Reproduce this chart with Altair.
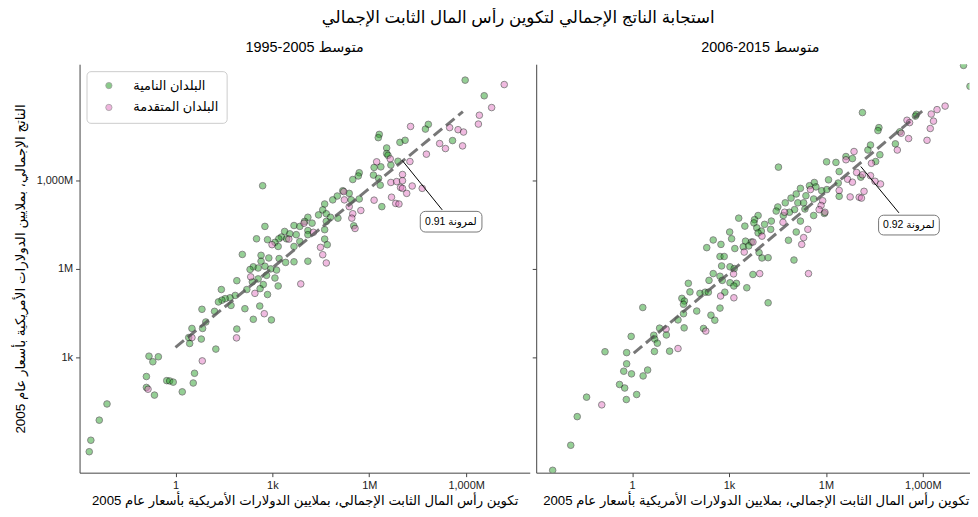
import altair as alt
import pandas as pd

FONT = "Liberation Sans, DejaVu Sans, sans-serif"

TITLE = "استجابة الناتج الإجمالي لتكوين رأس المال الثابت الإجمالي"
SUB_LEFT = "1995-2005 متوسط"
SUB_RIGHT = "2006-2015 متوسط"
X_TITLE = "تكوين رأس المال الثابت الإجمالي، بملايين الدولارات الأمريكية بأسعار عام 2005"
Y_TITLE = "الناتج الإجمالي، بملايين الدولارات الأمريكية بأسعار عام 2005"
GROUPS = ["البلدان النامية", "البلدان المتقدمة"]
COLORS = ["#2ca02c", "#e377c2"]

# values are log10 of (capital formation, output)
left_developing = [
    (8.97, 12.40), (9.56, 11.87), (7.83, 10.90), (7.74, 10.74), (6.31, 10.56), (6.28, 10.45),
    (6.95, 10.29), (7.11, 10.36), (8.58, 10.35), (6.54, 10.10), (6.54, 9.91), (6.58, 9.85),
    (6.89, 9.65), (6.36, 9.46), (6.15, 9.44), (6.67, 9.52), (5.69, 9.26), (5.66, 9.15),
    (5.49, 9.03), (6.13, 9.18), (6.29, 9.07), (6.34, 8.84), (2.70, 8.82), (5.18, 8.65),
    (5.01, 8.47), (5.38, 8.56), (4.87, 8.34), (5.44, 8.34), (5.69, 8.37), (6.39, 8.11),
    (4.62, 8.20), (4.56, 8.00), (4.67, 7.87), (4.43, 7.83), (4.80, 7.75), (5.03, 7.72),
    (5.52, 7.46), (4.67, 7.61), (4.10, 7.75), (4.00, 7.61), (4.23, 7.55), (3.67, 7.47),
    (3.85, 7.44), (4.10, 7.30), (4.62, 7.33), (2.77, 7.44), (3.38, 7.27), (3.54, 7.19),
    (3.74, 7.16), (4.10, 7.16), (3.28, 7.08), (3.20, 7.02), (3.44, 7.02), (2.51, 7.02),
    (2.85, 6.99), (3.08, 6.90), (3.18, 6.76), (3.67, 6.76), (3.85, 6.93), (4.62, 7.01),
    (4.70, 6.82), (2.07, 6.49), (2.65, 6.46), (2.89, 6.37), (3.21, 6.35), (2.65, 6.26),
    (3.41, 6.22), (3.67, 6.24), (4.10, 6.26), (2.41, 6.07), (2.56, 6.03), (2.77, 6.09),
    (2.31, 5.98), (3.13, 5.96), (2.95, 6.00), (2.56, 5.66), (2.82, 5.78), (3.08, 5.69),
    (1.90, 5.60), (2.38, 5.56), (2.72, 5.47), (2.62, 5.33), (3.18, 5.42), (2.21, 5.30),
    (1.42, 5.30), (2.85, 5.13), (1.85, 5.10), (1.69, 5.02), (1.54, 4.99), (1.44, 4.94),
    (1.33, 4.88), (1.72, 4.76), (2.15, 4.65), (2.61, 4.74), (2.41, 4.29), (2.97, 4.27),
    (0.82, 4.63), (1.21, 4.56), (0.94, 4.20), (0.51, 3.98), (0.84, 3.98), (1.90, 3.96),
    (0.41, 3.67), (0.80, 3.62), (0.44, 3.47), (1.25, 3.28), (-0.82, 3.04), (-0.53, 3.02),
    (-0.70, 2.85), (0.59, 2.46), (-0.90, 2.35), (-0.27, 2.21), (-0.18, 2.20), (-0.07, 2.16),
    (0.55, 2.13), (-0.90, 1.98), (0.21, 1.83), (-0.65, 1.72), (-2.12, 1.42), (-2.36, 0.87),
    (-2.62, 0.19), (-2.67, -0.20),
]
left_developed = [
    (10.18, 12.25), (9.79, 11.47), (9.41, 11.21), (9.38, 10.91), (7.28, 10.83), (8.49, 10.79),
    (8.75, 10.72), (8.92, 10.64), (8.18, 10.25), (8.36, 10.08), (8.89, 10.17), (7.77, 9.89),
    (6.65, 9.73), (6.23, 9.63), (7.26, 9.64), (7.03, 9.20), (6.67, 8.93), (6.85, 8.96),
    (7.03, 8.99), (6.97, 8.76), (7.33, 8.81), (7.64, 8.73), (7.03, 8.73), (7.16, 8.56),
    (5.21, 8.62), (5.23, 8.34), (6.15, 8.33), (6.69, 8.43), (6.82, 8.22), (6.92, 8.20),
    (5.74, 7.98), (5.38, 8.11), (5.49, 7.87), (5.46, 7.72), (5.56, 7.37), (3.98, 7.55),
    (4.27, 7.24), (3.51, 7.01), (2.99, 6.82), (4.49, 6.73), (4.56, 6.48), (4.67, 6.20),
    (2.33, 5.73), (3.88, 5.49), (2.46, 5.17), (2.75, 4.48), (0.51, 3.67), (1.89, 3.66),
    (0.83, 2.88), (-0.85, 1.92),
]
right_developing = [
    (10.26, 12.90), (10.46, 12.19), (7.13, 11.30), (8.80, 11.24), (8.77, 11.18), (7.64, 10.79),
    (7.61, 10.69), (8.29, 10.65), (8.15, 10.24), (7.38, 10.20), (7.30, 10.03), (7.67, 9.87),
    (6.62, 9.81), (6.82, 9.74), (7.54, 9.64), (6.02, 9.63), (6.31, 9.61), (4.53, 9.45),
    (6.41, 9.30), (7.08, 9.11), (6.08, 9.02), (6.38, 8.91), (5.64, 8.93), (5.49, 8.82),
    (5.69, 8.78), (5.21, 8.73), (5.87, 8.65), (6.03, 8.69), (6.41, 8.46), (5.08, 8.54),
    (5.38, 8.48), (4.92, 8.40), (5.62, 8.37), (4.74, 8.24), (5.13, 8.24), (5.31, 8.24),
    (5.95, 7.88), (4.51, 8.10), (4.46, 7.96), (5.03, 8.01), (5.35, 8.03), (4.87, 7.92),
    (5.62, 7.81), (4.68, 7.81), (3.90, 7.81), (3.79, 7.67), (3.30, 7.72), (3.77, 7.56),
    (4.10, 7.51), (4.31, 7.62), (5.21, 7.62), (3.49, 7.45), (3.86, 7.39), (4.00, 7.28),
    (4.29, 7.34), (3.90, 7.22), (5.08, 7.25), (3.02, 7.25), (3.08, 7.02), (3.51, 6.94),
    (3.69, 6.91), (2.51, 6.98), (2.75, 6.83), (2.31, 6.72), (3.18, 6.69), (3.44, 6.75),
    (3.61, 6.78), (4.84, 6.97), (3.93, 6.55), (4.02, 6.37), (4.21, 6.38), (2.72, 6.42),
    (2.85, 6.42), (2.77, 6.10), (3.03, 6.07), (3.16, 6.01), (5.01, 6.30), (2.51, 5.84),
    (3.74, 5.81), (2.72, 5.75), (2.38, 5.61), (2.79, 5.61), (3.03, 5.53), (3.23, 5.51),
    (3.15, 5.42), (3.55, 5.36), (1.74, 5.51), (1.79, 5.22), (2.10, 5.17), (2.26, 5.21),
    (2.36, 5.21), (2.87, 5.21), (1.54, 5.00), (1.62, 4.91), (1.59, 4.80), (4.21, 4.85),
    (0.33, 4.69), (2.72, 4.67), (2.00, 4.57), (1.59, 4.48), (2.44, 4.43), (2.56, 4.26),
    (1.42, 4.27), (0.85, 3.99), (1.61, 4.00), (2.21, 3.98), (-0.03, 3.71), (0.67, 3.75),
    (0.70, 3.62), (1.06, 3.76), (0.78, 3.48), (-0.84, 3.19), (-0.17, 3.16), (0.69, 3.20),
    (1.16, 3.21), (-0.17, 2.78), (0.48, 2.57), (-0.26, 2.53), (-0.02, 2.44), (0.34, 2.37),
    (-0.39, 2.08), (-0.23, 1.96), (-1.41, 1.65), (-0.18, 1.57), (0.14, 1.74), (-1.70, 0.99),
    (-1.90, 0.02), (-2.46, -0.83),
]
right_developed = [
    (10.67, 12.53), (9.69, 11.52), (9.44, 11.40), (9.26, 11.25), (8.51, 11.04), (8.59, 10.96),
    (9.33, 11.01), (9.23, 10.76), (8.33, 10.60), (8.56, 10.42), (9.13, 10.36), (8.21, 10.03),
    (6.87, 9.98), (6.62, 9.70), (7.41, 9.58), (6.95, 9.27), (7.13, 9.19), (7.38, 9.16),
    (6.67, 9.04), (6.82, 8.94), (7.52, 8.97), (7.69, 8.88), (5.52, 8.69), (6.41, 8.66),
    (6.75, 8.44), (7.03, 8.43), (7.10, 8.40), (7.18, 8.63), (5.90, 8.31), (5.85, 8.15),
    (5.79, 8.01), (5.97, 7.92), (4.72, 7.92), (4.67, 7.58), (4.02, 7.11), (5.44, 7.34),
    (3.74, 6.91), (3.47, 6.57), (5.31, 7.06), (5.25, 6.83), (3.14, 5.83), (3.95, 5.84),
    (5.46, 5.84), (2.74, 5.08), (3.15, 5.02), (1.05, 3.96), (2.28, 3.89), (1.42, 3.30),
    (-0.94, 1.39),
]

# fitted lines (log10 endpoints)
left_fit = [(0.00, 3.34), (8.90, 11.33)]
right_fit = [(0.05, 3.14), (8.98, 11.35)]

# annotation: label, arrow start, arrow end, box x-range, box y-range, text position (log10)
left_note = dict(label="0.91 لمرونة", a=(7.02, 9.68), b=(8.26, 8.00),
                 bx=(7.58, 9.49), by=(7.25, 7.95), t=(8.53, 7.60))
right_note = dict(label="0.92 لمرونة", a=(7.08, 9.47), b=(8.26, 7.90),
                  bx=(7.63, 9.51), by=(7.15, 7.82), t=(8.57, 7.48))

X_TICKS = [1, 1e3, 1e6, 1e9]
Y_TICKS = [1e3, 1e6, 1e9]
LABEL_EXPR = ("datum.value < 10 ? '1' : datum.value < 1e4 ? '1k' : "
              "datum.value < 1e7 ? '1M' : '1,000M'")

y_scale = alt.Scale(type="log", domain=[10 ** -0.91, 10 ** 12.94], nice=False)


def x_axis(title_x=None):
    kw = dict(values=X_TICKS, labelExpr=LABEL_EXPR, title=X_TITLE, grid=False,
              tickSize=4, labelFontSize=11, titleFontSize=13.3, labelFont=FONT,
              titleFont=FONT, titleFontWeight="normal", titlePadding=3,
              domainColor="#444444", tickColor="#444444", labelColor="#222222",
              titleColor="black", labelPadding=3)
    if title_x is not None:
        kw["titleX"] = title_x
    return alt.Axis(**kw)


def y_axis(show):
    if show:
        return alt.Axis(values=Y_TICKS, labelExpr=LABEL_EXPR, title=Y_TITLE, grid=False,
                        tickSize=4, labelFontSize=11, titleFontSize=13.5, labelFont=FONT,
                        titleFont=FONT, titleFontWeight="normal", titlePadding=9,
                        domainColor="#444444", tickColor="#444444", labelColor="#222222",
                        titleColor="black", labelPadding=3)
    return alt.Axis(values=Y_TICKS, labels=False, title=None, grid=False, tickSize=4,
                    domainColor="#444444", tickColor="#444444")


def panel(dev, adv, fit, note, subtitle, first, width, xmax, title_dx, title_x):
    rows = [{"gfcf": 10 ** a, "gdp": 10 ** b, "group": GROUPS[0]} for a, b in dev]
    rows += [{"gfcf": 10 ** a, "gdp": 10 ** b, "group": GROUPS[1]} for a, b in adv]
    pts = pd.DataFrame(rows)
    fit_df = pd.DataFrame({"gfcf": [10 ** p[0] for p in fit], "gdp": [10 ** p[1] for p in fit]})
    arrow_df = pd.DataFrame({"gfcf": [10 ** note["a"][0]], "gdp": [10 ** note["a"][1]],
                             "gfcf2": [10 ** note["b"][0]], "gdp2": [10 ** note["b"][1]]})
    box_df = pd.DataFrame({"gfcf": [10 ** note["bx"][0]], "gfcf2": [10 ** note["bx"][1]],
                           "gdp": [10 ** note["by"][0]], "gdp2": [10 ** note["by"][1]]})
    text_df = pd.DataFrame({"gfcf": [10 ** note["t"][0]], "gdp": [10 ** note["t"][1]],
                            "label": [note["label"]]})

    x_scale = alt.Scale(type="log", domain=[10 ** -2.97, 10 ** xmax], nice=False)
    X = alt.X("gfcf:Q", scale=x_scale, axis=x_axis(title_x))
    Y = alt.Y("gdp:Q", scale=y_scale, axis=y_axis(first))

    if first:
        legend = alt.Legend(orient="top-left", title=None, offset=7, padding=8,
                            strokeColor="#cccccc", fillColor="white", cornerRadius=4,
                            labelFontSize=13, labelFont=FONT, labelColor="black",
                            symbolSize=40, symbolType="circle", rowPadding=8,
                            symbolOffset=8, labelOffset=18, symbolStrokeColor="#555555",
                            symbolStrokeWidth=0.8, symbolOpacity=0.55)
    else:
        legend = None

    points = alt.Chart(pts).mark_circle(size=44, opacity=0.5, stroke="black",
                                        strokeWidth=0.9, clip=True).encode(
        x=X, y=Y,
        color=alt.Color("group:N", scale=alt.Scale(domain=GROUPS, range=COLORS),
                        sort=GROUPS, legend=legend),
    )
    line = alt.Chart(fit_df).mark_line(color="#555555", strokeWidth=3, opacity=0.8,
                                       strokeDash=[11, 5]).encode(x=X, y=Y)
    arrow = alt.Chart(arrow_df).mark_rule(color="black", strokeWidth=1).encode(
        x=X, y=Y, x2="gfcf2:Q", y2="gdp2:Q")
    box = alt.Chart(box_df).mark_rect(fill="white", stroke="#777777", strokeWidth=1,
                                      cornerRadius=5).encode(
        x=X, y=Y, x2="gfcf2:Q", y2="gdp2:Q")
    text = alt.Chart(text_df).mark_text(font=FONT, fontSize=10.5, color="black").encode(
        x=X, y=Y, text="label:N")

    return alt.layer(points, line, arrow, box, text).properties(
        width=width, height=411,
        title=alt.TitleParams(subtitle, fontSize=14.5, font=FONT, fontWeight="normal",
                              offset=9, color="black", dx=title_dx),
    )


left = panel(left_developing, left_developed, left_fit, left_note, SUB_LEFT, True, 453, 10.97,
             0, None)
right = panel(right_developing, right_developed, right_fit, right_note, SUB_RIGHT, False,
              436, 10.445, 7.5, 221)

chart = alt.hconcat(left, right, spacing=6.5, bounds="flush").resolve_scale(
    color="independent").resolve_legend(color="independent").properties(
    title=alt.TitleParams(TITLE, fontSize=16.8, font=FONT, fontWeight="normal",
                          anchor="middle", dx=27, offset=13, color="black"),
    padding={"left": 5, "top": 0, "right": 0, "bottom": 0},
).configure_view(stroke=None)

chart.save("out.html", embed_options={"renderer": "svg", "actions": False})
